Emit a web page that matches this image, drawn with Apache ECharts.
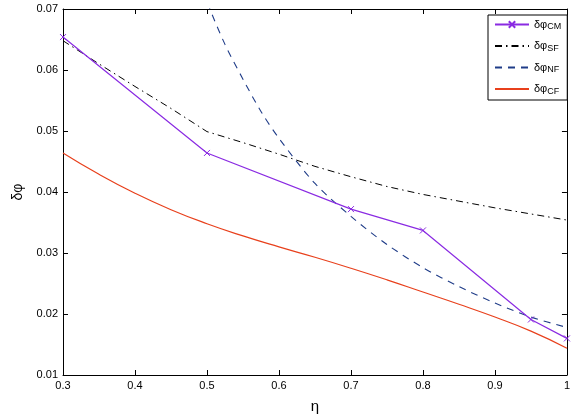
<!DOCTYPE html>
<html>
<head>
<meta charset="utf-8">
<script src="https://cdn.jsdelivr.net/npm/echarts@6/dist/echarts.min.js"></script>
<style>html,body{margin:0;padding:0;background:#fff}#c{width:573px;height:419px}</style>
</head>
<body>
<div id="c"></div>
<script>
// ---- data ----
const etaCM = [0.3, 0.5, 0.7, 0.8, 0.95, 1.0];
const dphiCM = [0.0654, 0.0464, 0.0372, 0.0337, 0.0191, 0.0160];

const etaSF = [0.3, 0.35, 0.4, 0.45, 0.5, 0.55, 0.6, 0.65, 0.7, 0.75, 0.8, 0.85, 0.9, 0.95, 1.0];
const dphiSF = [0.0648, 0.0610, 0.0573, 0.0537, 0.0499, 0.0481, 0.0462, 0.0442, 0.0425, 0.0409, 0.0396, 0.0385, 0.0374, 0.0364, 0.0354];

const etaNF = [0.45, 0.5, 0.525, 0.55, 0.575, 0.6, 0.65, 0.7, 0.75, 0.8, 0.85, 0.9, 0.95, 1.0];
const dphiNF = [0.0870, 0.0712, 0.0642, 0.0585, 0.0532, 0.0488, 0.0414, 0.0360, 0.0314, 0.0276, 0.0245, 0.0218, 0.0195, 0.0178];

const etaCF = [0.3, 0.35, 0.4, 0.45, 0.5, 0.55, 0.6, 0.65, 0.7, 0.75, 0.8, 0.85, 0.9, 0.95, 1.0];
const dphiCF = [0.0464, 0.0429, 0.0398, 0.0371, 0.0348, 0.0328, 0.0310, 0.0293, 0.0275, 0.0256, 0.0236, 0.0216, 0.0195, 0.0172, 0.0144];

const seriesNames = ['CM', 'SF', 'NF', 'CF'];
const xTicks = [0.3, 1.0, 0.1];   // min, max, interval
const yTicks = [0.01, 0.07, 0.01];

const pair = (xs, ys) => xs.map((x, i) => [x, ys[i]]);

const chart = echarts.init(document.getElementById('c'), null, {renderer: 'canvas'});
const FONT = 'Liberation Sans, Arial, sans-serif';
const axisCommon = {
  axisLine: {show: true, onZero: false, lineStyle: {color: '#000', width: 1}},
  axisTick: {show: true, inside: true, length: 5, lineStyle: {color: '#000'}},
  splitLine: {show: false}
};
chart.setOption({
  animation: false,
  backgroundColor: '#fff',
  grid: {left: 63, right: 4, top: 9, bottom: 41},
  xAxis: [
    Object.assign({
      type: 'value', min: xTicks[0], max: xTicks[1], interval: xTicks[2], position: 'bottom',
      name: 'η', nameLocation: 'middle', nameGap: 24,
      nameTextStyle: {fontFamily: FONT, fontSize: 15, color: '#000'},
      axisLabel: {fontFamily: FONT, fontSize: 11, color: '#000', margin: 5,
        formatter: v => String(Math.round(v * 10) / 10)}
    }, axisCommon),
    Object.assign({
      type: 'value', min: xTicks[0], max: xTicks[1], interval: xTicks[2], position: 'top',
      axisLabel: {show: false}
    }, axisCommon)
  ],
  yAxis: [
    Object.assign({
      type: 'value', min: yTicks[0], max: yTicks[1], interval: yTicks[2], position: 'left',
      name: 'δφ', nameLocation: 'middle', nameGap: 38, nameRotate: 90,
      nameTextStyle: {fontFamily: FONT, fontSize: 14, color: '#000'},
      axisLabel: {fontFamily: FONT, fontSize: 11, color: '#000', margin: 5,
        formatter: v => v.toFixed(2)}
    }, axisCommon),
    Object.assign({
      type: 'value', min: yTicks[0], max: yTicks[1], interval: yTicks[2], position: 'right',
      axisLabel: {show: false}
    }, axisCommon)
  ],
  legend: {
    orient: 'vertical', left: 488, top: 15,
    data: seriesNames.map((n, i) => i === 0 ? {name: n} : {name: n, itemStyle: {opacity: 0}}),
    itemWidth: 34, itemHeight: 8, itemGap: 9,
    padding: [4, 6, 4, 6],
    borderColor: '#000', borderWidth: 1, backgroundColor: '#fff',
    formatter: n => '{a|δφ}{b|' + n + '}',
    textStyle: {
      fontFamily: FONT, color: '#000',
      rich: {
        a: {fontFamily: FONT, fontSize: 11, color: '#000'},
        b: {fontFamily: FONT, fontSize: 9, color: '#000', padding: [5, 0, 0, 0]}
      }
    }
  },
  series: [
    {
      name: 'CM', type: 'line', data: pair(etaCM, dphiCM),
      symbol: 'path://M0,0L10,10M10,0L0,10', symbolSize: 6,
      itemStyle: {color: '#8a2be2', borderColor: '#8a2be2', borderWidth: 1},
      lineStyle: {color: '#8a2be2', width: 1.2}, z: 5
    },
    {
      name: 'SF', type: 'line', data: pair(etaSF, dphiSF), symbol: 'none',
      itemStyle: {color: '#000'},
      lineStyle: {color: '#000', width: 1, type: [7, 4, 1.5, 4]}
    },
    {
      name: 'NF', type: 'line', data: pair(etaNF, dphiNF), symbol: 'none', smooth: 0.3,
      clip: true,
      itemStyle: {color: '#1f3c88'},
      lineStyle: {color: '#1f3c88', width: 1.1, type: [7, 6]}
    },
    {
      name: 'CF', type: 'line', data: pair(etaCF, dphiCF), symbol: 'none', smooth: 0.5,
      itemStyle: {color: '#e8401c'},
      lineStyle: {color: '#e8401c', width: 1.2}
    }
  ]
});
</script>
</body>
</html>
